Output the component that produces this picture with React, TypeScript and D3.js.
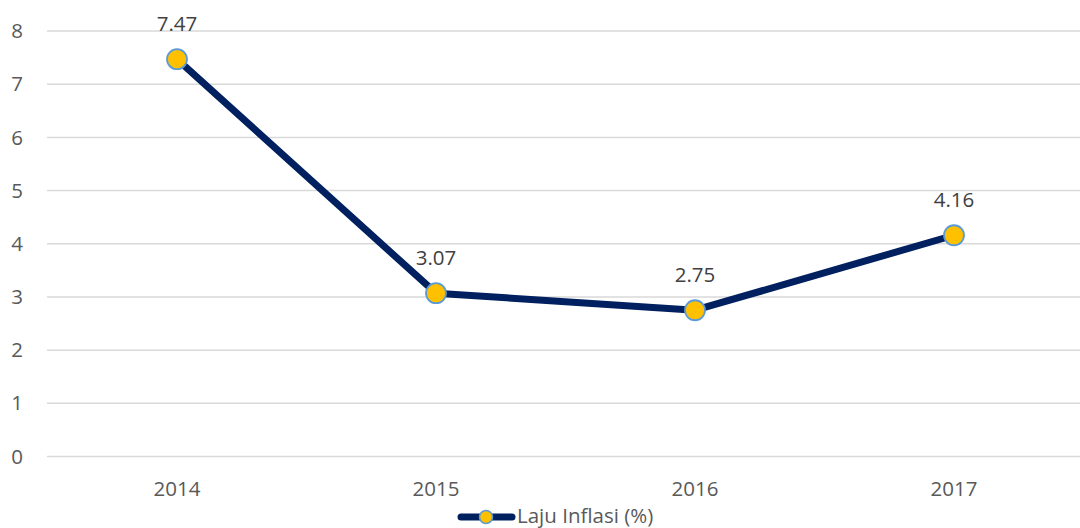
import React from "react";
import * as d3 from "d3";

const years = ["2014", "2015", "2016", "2017"];
const inflation = [7.47, 3.07, 2.75, 4.16];
const yTicks = [0, 1, 2, 3, 4, 5, 6, 7, 8];
const seriesName = "Laju Inflasi (%)";

const W = 1080;
const H = 528;
const FONT = "'Open Sans', sans-serif";
const FS = 20.5;

export default function App() {
  const x = d3.scalePoint<string>().domain(years).range([177, 954]);
  const y = d3.scaleLinear().domain([0, 8]).range([456.5, 31]);
  const line = d3
    .line<number>()
    .x((_, i) => x(years[i]) as number)
    .y((d) => y(d));

  return (
    <svg
      width={W}
      height={H}
      style={{ position: "absolute", left: 0, top: 0, background: "#fff" }}
      fontFamily={FONT}
    >
      {yTicks.map((t) => (
        <g key={t}>
          <line x1={47} x2={1080} y1={y(t)} y2={y(t)} stroke="#d9d9d9" strokeWidth={1.5} />
          <text x={23} y={y(t)} dy="0.35em" textAnchor="end" fontSize={FS} fill="#595959">
            {t}
          </text>
        </g>
      ))}
      {years.map((yr) => (
        <text key={yr} x={x(yr)} y={496} textAnchor="middle" fontSize={FS} fill="#595959">
          {yr}
        </text>
      ))}
      <path d={line(inflation) || ""} fill="none" stroke="#002060" strokeWidth={7} strokeLinejoin="round" />
      {inflation.map((v, i) => (
        <g key={i}>
          <circle cx={x(years[i])} cy={y(v)} r={10} fill="#FFC000" stroke="#5B9BD5" strokeWidth={1.8} />
          <text x={x(years[i])} y={y(v) - 28} textAnchor="middle" fontSize={FS} fill="#404040">
            {v.toFixed(2)}
          </text>
        </g>
      ))}
      <g>
        <line x1={461} x2={512} y1={517} y2={517} stroke="#002060" strokeWidth={7} strokeLinecap="round" />
        <circle cx={486} cy={517} r={6.5} fill="#FFC000" stroke="#5B9BD5" strokeWidth={1.5} />
        <text x={517} y={523} fontSize={FS} fill="#595959">
          {seriesName}
        </text>
      </g>
    </svg>
  );
}
